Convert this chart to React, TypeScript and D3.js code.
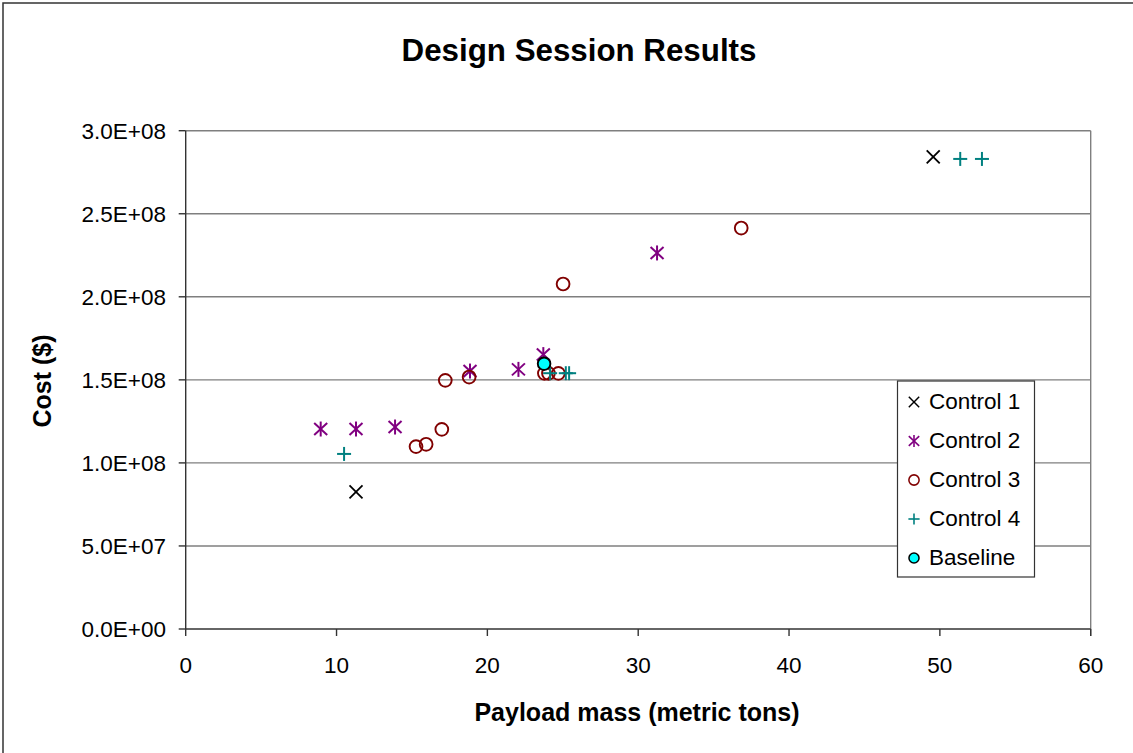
import React from "react";
import * as d3 from "d3";

const xTicks = [0, 10, 20, 30, 40, 50, 60];
const yTicks = [0, 5e7, 1e8, 1.5e8, 2e8, 2.5e8, 3e8];
const yTickLabels = ["0.0E+00", "5.0E+07", "1.0E+08", "1.5E+08", "2.0E+08", "2.5E+08", "3.0E+08"];

const control1 = [
  { x: 49.56, y: 2.842e8 },
  { x: 11.29, y: 0.825e8 },
];
const control2 = [
  { x: 8.95, y: 1.204e8 },
  { x: 11.29, y: 1.204e8 },
  { x: 13.88, y: 1.216e8 },
  { x: 18.85, y: 1.553e8 },
  { x: 22.06, y: 1.563e8 },
  { x: 23.71, y: 1.652e8 },
  { x: 31.25, y: 2.264e8 },
];
const control3 = [
  { x: 17.21, y: 1.497e8 },
  { x: 18.79, y: 1.517e8 },
  { x: 16.98, y: 1.202e8 },
  { x: 15.27, y: 1.098e8 },
  { x: 15.94, y: 1.112e8 },
  { x: 25.02, y: 2.077e8 },
  { x: 36.83, y: 2.414e8 },
  { x: 23.78, y: 1.539e8 },
  { x: 24.05, y: 1.539e8 },
  { x: 24.71, y: 1.539e8 },
];
const control4 = [
  { x: 10.5, y: 1.054e8 },
  { x: 51.35, y: 2.83e8 },
  { x: 52.79, y: 2.83e8 },
  { x: 24.16, y: 1.54e8 },
  { x: 25.2, y: 1.54e8 },
  { x: 25.42, y: 1.54e8 },
];
const baseline = [{ x: 23.76, y: 1.597e8 }];

const seriesNames = ["Control 1", "Control 2", "Control 3", "Control 4", "Baseline"];

const W = 1133;
const H = 753;
const L = 185.7, R = 1090.7, T = 130.7, B = 629;
const font = "Liberation Sans, Arial, sans-serif";

function Marker({ type, cx, cy }: { type: string; cx: number; cy: number }) {
  const s = 6.5;
  if (type === "Control 1") {
    return (
      <g stroke="#000" strokeWidth={1.8}>
        <line x1={cx - s} y1={cy - s} x2={cx + s} y2={cy + s} />
        <line x1={cx - s} y1={cy + s} x2={cx + s} y2={cy - s} />
      </g>
    );
  }
  if (type === "Control 2") {
    return (
      <g stroke="#800080" strokeWidth={2}>
        <line x1={cx - s} y1={cy - s + 0.5} x2={cx + s} y2={cy + s - 0.5} />
        <line x1={cx - s} y1={cy + s - 0.5} x2={cx + s} y2={cy - s + 0.5} />
        <line x1={cx} y1={cy - s - 1} x2={cx} y2={cy + s + 1} />
      </g>
    );
  }
  if (type === "Control 3") {
    return <circle cx={cx} cy={cy} r={6.4} fill="none" stroke="#800000" strokeWidth={1.9} />;
  }
  if (type === "Control 4") {
    return (
      <g stroke="#008080" strokeWidth={2}>
        <line x1={cx - 7} y1={cy} x2={cx + 7} y2={cy} />
        <line x1={cx} y1={cy - 7} x2={cx} y2={cy + 7} />
      </g>
    );
  }
  return <circle cx={cx} cy={cy} r={6.3} fill="#00FFFF" stroke="#000" strokeWidth={1.9} />;
}

export default function App() {
  const x = d3.scaleLinear().domain([0, 60]).range([L, R]);
  const y = d3.scaleLinear().domain([0, 3e8]).range([B, T]);

  const series: { name: string; data: { x: number; y: number }[] }[] = [
    { name: "Control 1", data: control1 },
    { name: "Control 2", data: control2 },
    { name: "Control 3", data: control3 },
    { name: "Control 4", data: control4 },
    { name: "Baseline", data: baseline },
  ];

  const legX = 897.5, legY = 381, legW = 137, legH = 196;

  return (
    <svg width={W} height={H} style={{ position: "absolute", left: 0, top: 0 }} fontFamily={font}>
      <rect x={0} y={0} width={W} height={H} fill="#fff" />
      <rect x={3} y={3} width={W + 10} height={H + 10} fill="none" stroke="#333" strokeWidth={1.5} />
      {yTicks.slice(1).map((t) => (
        <line key={t} x1={L} x2={R} y1={y(t)} y2={y(t)} stroke="#7f7f7f" strokeWidth={1.4} />
      ))}
      <line x1={R} x2={R} y1={T} y2={B + 7} stroke="#7f7f7f" strokeWidth={1.4} />
      <line x1={L} x2={L} y1={T} y2={B} stroke="#333" strokeWidth={1.4} />
      <line x1={L} x2={R} y1={B} y2={B} stroke="#333" strokeWidth={1.4} />
      {yTicks.map((t, i) => (
        <g key={t}>
          <line x1={L - 7} x2={L} y1={y(t)} y2={y(t)} stroke="#333" strokeWidth={1.4} />
          <text x={166} y={y(t)} dy="0.36em" textAnchor="end" fontSize={22.5} fill="#000">
            {yTickLabels[i]}
          </text>
        </g>
      ))}
      {xTicks.map((t) => (
        <g key={t}>
          <line x1={x(t)} x2={x(t)} y1={B} y2={B + 7} stroke="#333" strokeWidth={1.4} />
          <text x={x(t)} y={665} dy="0.36em" textAnchor="middle" fontSize={22.5} fill="#000">
            {t}
          </text>
        </g>
      ))}
      <text x={579} y={50} dy="0.36em" textAnchor="middle" fontSize={31.3} fontWeight="bold">
        Design Session Results
      </text>
      <text x={637} y={712} dy="0.36em" textAnchor="middle" fontSize={25} fontWeight="bold">
        Payload mass (metric tons)
      </text>
      <text
        transform={`translate(42, 381) rotate(-90)`}
        dy="0.36em"
        textAnchor="middle"
        fontSize={25}
        fontWeight="bold"
      >
        Cost ($)
      </text>
      {series.map((s) => (
        <g key={s.name}>
          {s.data.map((d, i) => (
            <Marker key={i} type={s.name} cx={x(d.x)} cy={y(d.y)} />
          ))}
        </g>
      ))}
      <rect x={legX} y={legY} width={legW} height={legH} fill="#fff" stroke="#333" strokeWidth={1.2} />
      {seriesNames.map((n, i) => {
        const cy = 401 + i * 39;
        return (
          <g key={n}>
            <g transform={`translate(${914},${cy + 1}) scale(0.8) translate(${-914},${-(cy + 1)})`}>
              <Marker type={n} cx={914} cy={cy + 1} />
            </g>
            <text x={929} y={cy} dy="0.36em" fontSize={22.5} fill="#000">
              {n}
            </text>
          </g>
        );
      })}
    </svg>
  );
}
